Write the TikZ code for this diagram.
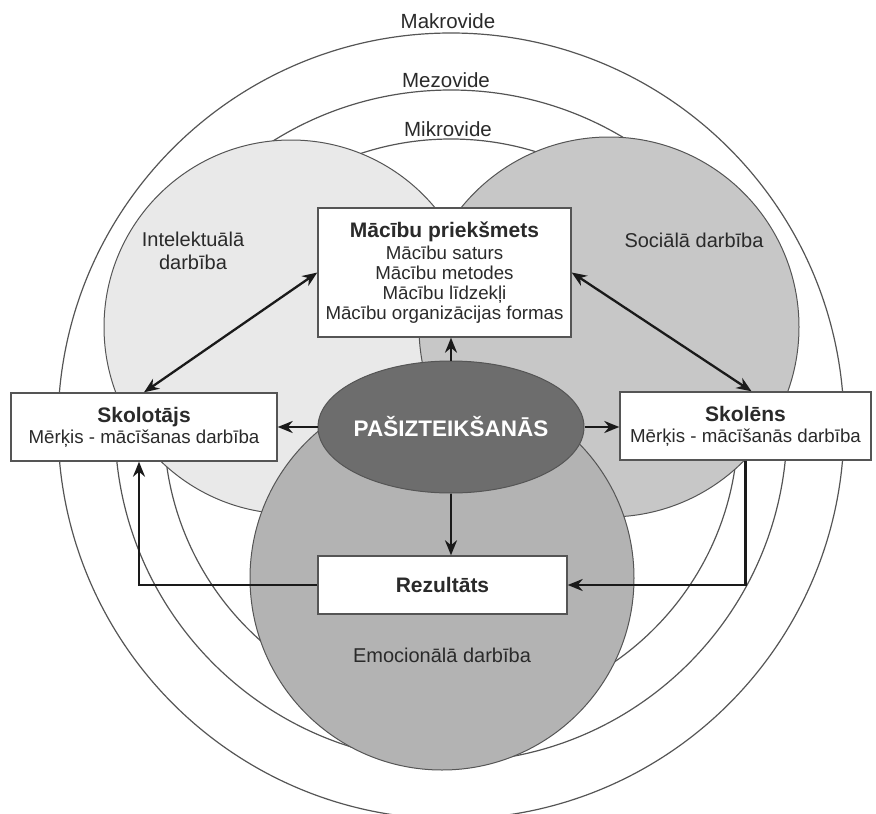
\documentclass[tikz,border=0pt]{standalone}
\usepackage{fontspec}
\setmainfont{Liberation Sans}
\usetikzlibrary{shapes.geometric, arrows.meta}

\definecolor{textGray}{HTML}{2A2A2A}
\definecolor{lineGray}{HTML}{555555}
\definecolor{arrowBlack}{HTML}{1A1A1A}
\definecolor{lightArea}{HTML}{E9E9E9}
\definecolor{midArea}{HTML}{C7C7C7}
\definecolor{darkArea}{HTML}{B3B3B3}
\definecolor{coreGray}{HTML}{6D6D6D}

\tikzstyle{ring} = [draw=lineGray, line width=1.2pt]
\tikzstyle{area} = [draw=lineGray, line width=1pt]
\tikzstyle{ringLabel} = [text=textGray, font=\fontsize{20.5}{24}\selectfont]
\tikzstyle{areaLabel} = [text=textGray, align=center, font=\fontsize{20}{23}\selectfont]
\tikzstyle{whiteBox} = [rectangle, draw=lineGray, line width=1.4pt, fill=white, text centered, align=center, text=textGray, font=\fontsize{18.7}{20}\selectfont]
\tikzstyle{core} = [ellipse, draw=lineGray, line width=1pt, fill=coreGray, text=white, inner sep=0pt, font=\fontsize{22.5}{26}\selectfont\bfseries]
\tikzstyle{arrow} = [line width=2.3pt, draw=arrowBlack, -{Stealth[length=15pt,width=12pt]}]
\tikzstyle{doubleArrow} = [line width=2.3pt, draw=arrowBlack, {Stealth[length=15pt,width=12pt]}-{Stealth[length=15pt,width=12pt]}]

\begin{document}
\begin{tikzpicture} [x=1pt, y=-1pt]
        \useasboundingbox (0,0) rectangle (876,814);

        \draw[ring] (451,426) circle [radius=393pt];
        \draw[ring] (451,426) circle [radius=336pt];
        \draw[ring] (451,426) circle [radius=287pt];

        \node (makroLabel) [ringLabel] at (448,21) {Makrovide};
        \node (mezoLabel) [ringLabel] at (446,80) {Mezovide};
        \node (mikroLabel) [ringLabel] at (448,129) {Mikrovide};

        \draw[area, fill=lightArea] (291,327) circle [radius=187pt];
        \draw[area, fill=midArea] (609,327) circle [radius=190pt];
        \draw[area, fill=darkArea] (442,578) circle [radius=192pt];

        \node (intelLabel) [areaLabel] at (193,251) {Intelektuālā\\darbība};
        \node (socLabel) [areaLabel] at (694,240) {Sociālā darbība};
        \node (emoLabel) [areaLabel] at (442,655) {Emocionālā darbība};

        \node (macibu) [whiteBox, minimum width=253pt, minimum height=129pt] at (444.5,272.5) {{\bfseries\fontsize{21}{24}\selectfont Mācību priekšmets}\\[2pt] Mācību saturs\\ Mācību metodes\\ Mācību līdzekļi\\ Mācību organizācijas formas};
        \node (skolotajs) [whiteBox, minimum width=266pt, minimum height=68pt] at (144,427) {{\bfseries\fontsize{21}{24}\selectfont Skolotājs}\\[1pt] Mērķis - mācīšanas darbība};
        \node (skolens) [whiteBox, minimum width=251pt, minimum height=68pt] at (745.5,426) {{\bfseries\fontsize{21}{24}\selectfont Skolēns}\\[1pt] Mērķis - mācīšanās darbība};
        \node (pasizt) [core, minimum width=266pt, minimum height=132pt] at (451,427) {\makebox[0pt]{PAŠIZTEIKŠANĀS}};
        \node (rezultats) [whiteBox, minimum width=249pt, minimum height=58pt] at (442.5,585) {\bfseries\fontsize{21}{24}\selectfont Rezultāts};

        \draw[doubleArrow] (skolotajs.north) -- (macibu.west);
        \draw[doubleArrow] (macibu.east) -- ([xshift=6pt]skolens.north);
        \draw[arrow] (pasizt.north) -- (pasizt.north |- macibu.south);
        \draw[arrow] (pasizt.west) -- (pasizt.west -| skolotajs.east);
        \draw[arrow] (pasizt.east) -- (pasizt.east -| skolens.west);
        \draw[arrow] (pasizt.south) -- (pasizt.south |- rezultats.north);
        \draw[arrow] (rezultats.west) -| ([xshift=-5pt]skolotajs.south);
        \draw[arrow] (skolens.south) |- (rezultats.east);

\end{tikzpicture}
\end{document}
